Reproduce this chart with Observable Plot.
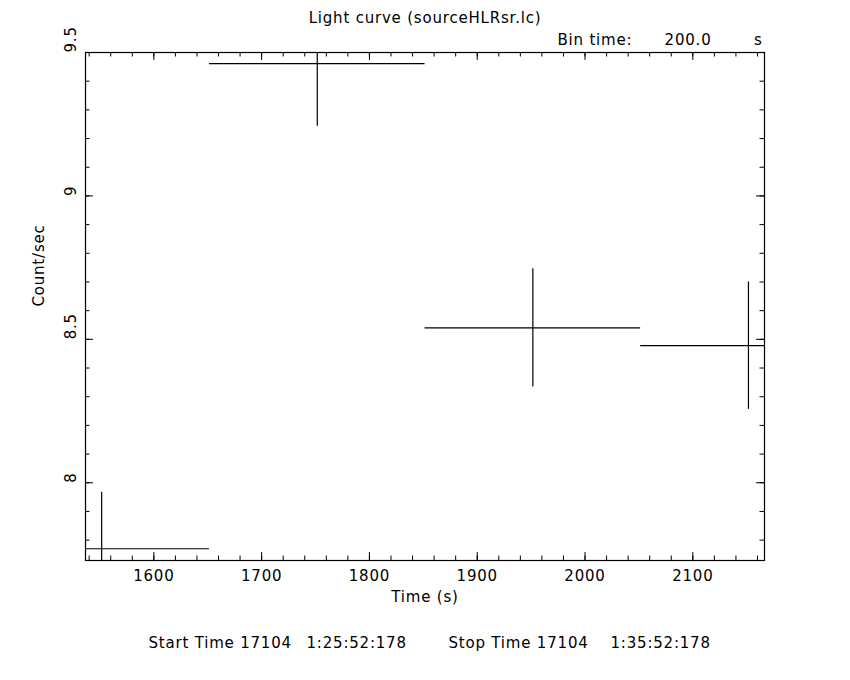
<!DOCTYPE html>
<html>
<head>
<meta charset="utf-8">
<script src="https://cdn.jsdelivr.net/npm/d3@7"></script>
<script src="https://cdn.jsdelivr.net/npm/@observablehq/plot@0.6"></script>
<style>
  html, body { margin: 0; padding: 0; background: #fff; }
  svg text { font-family: "DejaVu Sans", "Liberation Sans", sans-serif; letter-spacing: 0.8px; }
</style>
</head>
<body>
<div id="chart"></div>
<script>
// ---- data ----
const binTime = 200.0;
const timeCenters = [1551.6, 1751.6, 1951.6, 2151.6];
const rates = [7.770, 9.461, 8.540, 8.478];
const rateErrors = [0.197, 0.218, 0.206, 0.222];

// ---- axis ticks ----
const xMajorTicks = [1600, 1700, 1800, 1900, 2000, 2100];
const xMinorTicks = d3.range(1540, 2170, 20);
const yMajorTicks = [8, 8.5, 9, 9.5];
const yMinorTicks = d3.range(7.8, 9.55, 0.1).map(v => +v.toFixed(1));

// ---- texts ----
const titleText = "Light curve (sourceHLRsr.lc)";
const xLabel = "Time (s)";
const yLabel = "Count/sec";

const data = timeCenters.map((t, i) => ({t, rate: rates[i], err: rateErrors[i], half: binTime / 2}));

const W = 850, H = 680;
const mL = 85, mR = 86, mT = 52, mB = 120;
const fw = W - mL - mR, fh = H - mT - mB;
const major = 8, minor = 4.5;
const font = {fontSize: 15, fill: "black"};

const chart = Plot.plot({
  width: W, height: H,
  marginLeft: mL, marginRight: mR, marginTop: mT, marginBottom: mB,
  style: {background: "white", fontFamily: "DejaVu Sans, Liberation Sans, sans-serif"},
  x: {domain: [1536.6, 2166.5], axis: null},
  y: {domain: [7.729, 9.5], axis: null},
  marks: [
    // data: horizontal (bin width) and vertical (error) bars
    Plot.ruleY(data, {y: "rate", x1: d => d.t - d.half, x2: d => d.t + d.half, stroke: "black", strokeWidth: 1.2, clip: true}),
    Plot.ruleX(data, {x: "t", y1: d => d.rate - d.err, y2: d => d.rate + d.err, stroke: "black", strokeWidth: 1.2, clip: true}),
    // frame
    Plot.frame({stroke: "black", strokeWidth: 1.2}),
    // x ticks bottom & top (inward)
    Plot.tickX(xMinorTicks, {x: d => d, insetTop: fh - minor, stroke: "black"}),
    Plot.tickX(xMajorTicks, {x: d => d, insetTop: fh - major, stroke: "black"}),
    Plot.tickX(xMinorTicks, {x: d => d, insetBottom: fh - minor, stroke: "black"}),
    Plot.tickX(xMajorTicks, {x: d => d, insetBottom: fh - major, stroke: "black"}),
    // y ticks left & right (inward)
    Plot.tickY(yMinorTicks, {y: d => d, insetRight: fw - minor, stroke: "black"}),
    Plot.tickY(yMajorTicks, {y: d => d, insetRight: fw - major, stroke: "black"}),
    Plot.tickY(yMinorTicks, {y: d => d, insetLeft: fw - minor, stroke: "black"}),
    Plot.tickY(yMajorTicks, {y: d => d, insetLeft: fw - major, stroke: "black"}),
    // tick labels
    Plot.text(xMajorTicks, {x: d => d, frameAnchor: "bottom", dy: 20, text: d => String(d), ...font}),
    Plot.text(yMajorTicks, {y: d => d, frameAnchor: "left", dx: -14, rotate: -90, text: d => String(d), ...font}),
    // axis labels
    Plot.text([xLabel], {frameAnchor: "bottom", dy: 41, ...font}),
    Plot.text([yLabel], {frameAnchor: "left", dx: -46, rotate: -90, ...font}),
    // title
    Plot.text([titleText], {frameAnchor: "top", dy: -40, ...font}),
    // bin time
    Plot.text(["Bin time:"], {frameAnchor: "top-right", dx: -207, dy: -18, textAnchor: "start", ...font}),
    Plot.text([binTime.toFixed(1)], {frameAnchor: "top-right", dx: -53, dy: -18, textAnchor: "end", ...font}),
    Plot.text(["s"], {frameAnchor: "top-right", dx: -2, dy: -18, textAnchor: "end", ...font}),
    // start / stop times
    Plot.text(["Start Time 17104"], {frameAnchor: "bottom-left", dx: 63, dy: 87, textAnchor: "start", ...font}),
    Plot.text(["1:25:52:178"], {frameAnchor: "bottom-left", dx: 221, dy: 87, textAnchor: "start", ...font}),
    Plot.text(["Stop Time 17104"], {frameAnchor: "bottom-left", dx: 363, dy: 87, textAnchor: "start", ...font}),
    Plot.text(["1:35:52:178"], {frameAnchor: "bottom-left", dx: 525, dy: 87, textAnchor: "start", ...font})
  ]
});
document.getElementById("chart").appendChild(chart);
</script>
</body>
</html>
